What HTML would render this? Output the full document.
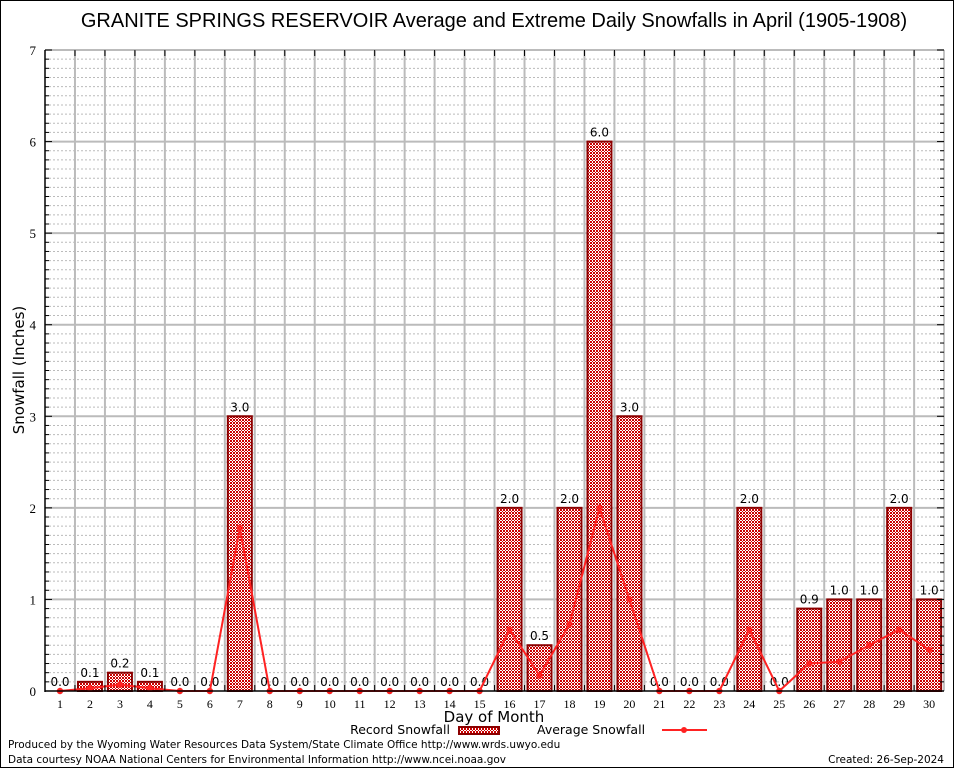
<!DOCTYPE html>
<html><head><meta charset="utf-8"><style>
html,body{margin:0;padding:0;background:#fff;}
svg{display:block;font-family:"DejaVu Sans","Liberation Sans",sans-serif;}
</style></head><body>
<svg width="954" height="768" viewBox="0 0 954 768" xmlns="http://www.w3.org/2000/svg">
<defs>
<pattern id="chk" width="3" height="3" patternUnits="userSpaceOnUse">
<rect width="3" height="3" fill="#fff"/>
<rect x="0" y="0" width="1" height="1" fill="#c00"/>
<rect x="2" y="0" width="1" height="1" fill="#c00"/>
<rect x="1" y="1" width="1" height="1" fill="#c00"/>
<rect x="0" y="2" width="1" height="1" fill="#c00"/>
<rect x="2" y="2" width="1" height="1" fill="#c00"/>
</pattern>
</defs>
<rect x="0.5" y="0.5" width="953" height="767" fill="#fff" stroke="#000"/>
<text x="494" y="27" font-family="Liberation Sans,sans-serif" font-size="20" text-anchor="middle">GRANITE SPRINGS RESERVOIR Average and Extreme Daily Snowfalls in April (1905-1908)</text>
<g id="grid"></g>
<g id="bars"></g>
<g id="line"></g>
<g id="axes"></g>
<text x="24" y="370" font-size="15" text-anchor="middle" transform="rotate(-90 24 370)">Snowfall (Inches)</text>
<text x="494" y="722" font-size="15" text-anchor="middle">Day of Month</text>
<text x="450" y="734" font-size="12.5" text-anchor="end">Record Snowfall</text>
<rect x="459" y="727" width="40" height="7" fill="url(#chk)" stroke="#8b0000" stroke-width="2"/>
<text x="537" y="734" font-size="12.5">Average Snowfall</text>
<line x1="662" y1="730" x2="707" y2="730" stroke="#f22" stroke-width="2"/>
<circle cx="684" cy="730" r="3" fill="#f22"/>
<text x="8" y="748" font-size="10.5">Produced by the Wyoming Water Resources Data System/State Climate Office http://www.wrds.uwyo.edu</text>
<text x="8" y="763" font-size="10.5">Data courtesy NOAA National Centers for Environmental Information http://www.ncei.noaa.gov</text>
<text x="944" y="763" font-size="10.5" text-anchor="end">Created: 26-Sep-2024</text>
<script>
(function(){
var ns="http://www.w3.org/2000/svg";
function el(p,t,a,txt){var e=document.createElementNS(ns,t);for(var k in a)e.setAttribute(k,a[k]);if(txt!==undefined)e.textContent=txt;document.getElementById(p).appendChild(e);return e;}
var L=45,R=944,T=50,B=691,U=(B-T)/7;
function Y(v){return B-v*U;}
function X(d){return 60+(d-1)*29.97;}
for(var i=0;i<70;i++){if(i%10==0)continue;var y=Y(i/10);el("grid","line",{x1:L,x2:R,y1:y,y2:y,stroke:"#bbb","stroke-width":1,"stroke-dasharray":"2,2"});}
for(var i=1;i<=7;i++){var y=Y(i);el("grid","line",{x1:L,x2:R,y1:y,y2:y,stroke:"#bbb","stroke-width":2});}
for(var k=1;k<30;k++){var x=L+29.97*k;el("grid","line",{x1:x,x2:x,y1:T,y2:B,stroke:"#bbb","stroke-width":2});}
var rec=[0,0.1,0.2,0.1,0,0,3,0,0,0,0,0,0,0,0,2,0.5,2,6,3,0,0,0,2,0,0.9,1,1,2,1];
var avg=[0,0.03,0.07,0.03,0,0,1.78,0,0,0,0,0,0,0,0,0.67,0.17,0.73,2,1,0,0,0,0.67,0,0.3,0.32,0.5,0.67,0.45];
for(var d=1;d<=30;d++){var v=rec[d-1],x=X(d);
 if(v>0)el("bars","rect",{x:x-12,y:Y(v),width:24,height:B-Y(v),fill:"url(#chk)",stroke:"#8b0000","stroke-width":2});
 el("bars","text",{x:x,y:Y(v)-5,"font-size":12,"text-anchor":"middle"},v.toFixed(1));
}
var pts=[];for(var d=1;d<=30;d++)pts.push(X(d)+","+Y(avg[d-1]).toFixed(1));
el("line","polyline",{points:pts.join(" "),fill:"none",stroke:"#f22","stroke-width":2});
for(var d=1;d<=30;d++)el("line","circle",{cx:X(d),cy:Y(avg[d-1]),r:3.2,fill:"#f22"});
el("axes","line",{x1:L,x2:R,y1:T,y2:T,stroke:"#bbb","stroke-width":1});
el("axes","line",{x1:R,x2:R,y1:T,y2:B,stroke:"#888","stroke-width":1});
el("axes","line",{x1:L,x2:L,y1:T,y2:B+1,stroke:"#000","stroke-width":1.5});
el("axes","line",{x1:L,x2:R,y1:B,y2:B,stroke:"#000","stroke-width":1.5});
for(var i=0;i<=70;i++){var y=Y(i/10);el("axes","line",{x1:L,x2:L+(i%10==0?7:4),y1:y,y2:y,stroke:"#000","stroke-width":1});el("axes","line",{x1:R,x2:R-(i%10==0?7:4),y1:y,y2:y,stroke:"#000","stroke-width":1});}
for(var i=0;i<=7;i++)el("axes","text",{x:36,y:Y(i)+5,"font-size":13,"text-anchor":"end","font-family":"Liberation Serif,serif"},String(i));
for(var k=1;k<30;k++){var x=L+29.97*k;el("axes","line",{x1:x,x2:x,y1:B,y2:B-6,stroke:"#000"});el("axes","line",{x1:x,x2:x,y1:T,y2:T+6,stroke:"#000"});}
for(var d=1;d<=30;d++)el("axes","text",{x:X(d),y:708,"font-size":12,"text-anchor":"middle","font-family":"Liberation Serif,serif"},String(d));
})();
</script>
</svg>
</body></html>
